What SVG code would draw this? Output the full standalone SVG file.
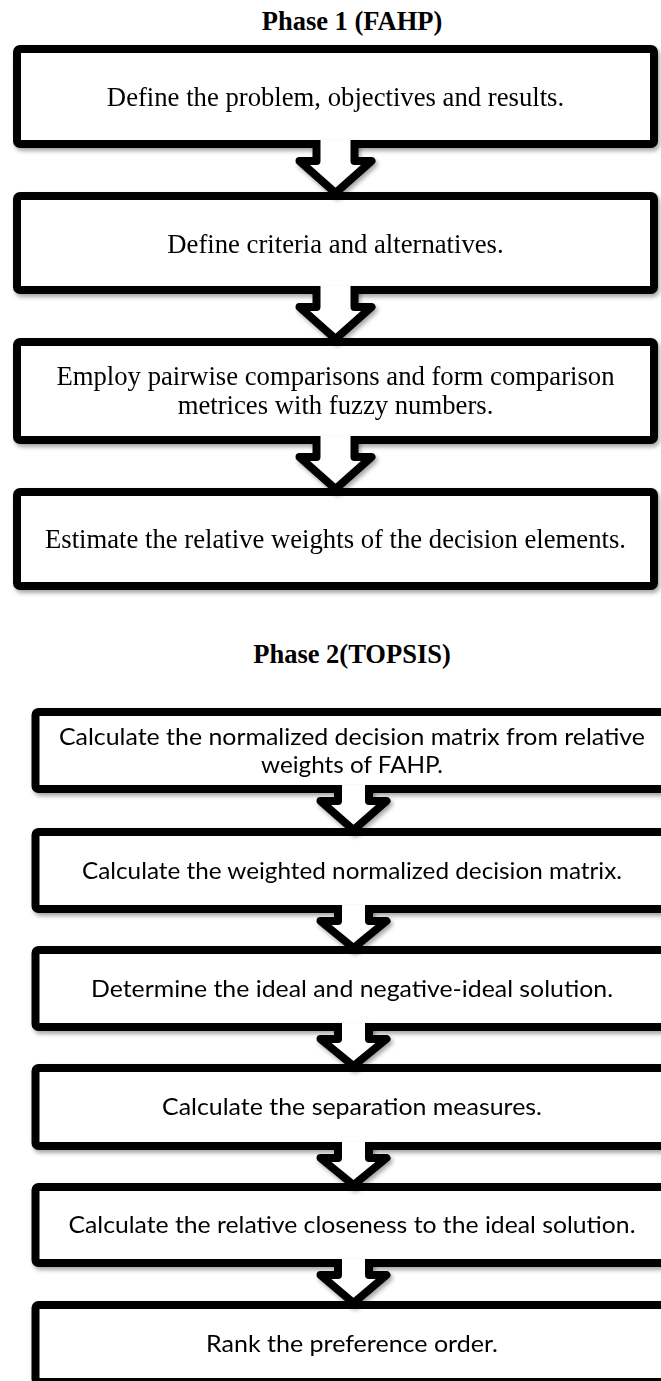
<svg xmlns="http://www.w3.org/2000/svg" width="661" height="1381" viewBox="0 0 661 1381">
<style>
.bg{fill:#ffffff}
.box{fill:#ffffff;stroke:#000000;stroke-width:8;stroke-linejoin:round}
.arr{fill:#ffffff;stroke:#000000;stroke-width:8;stroke-linejoin:round;stroke-linecap:butt}
.title{font-family:"Liberation Serif","Times New Roman",serif;font-weight:bold;font-size:26.5px;fill:#000;text-anchor:middle}
.t1{font-family:"Liberation Serif","Times New Roman",serif;font-size:26.7px;fill:#000;text-anchor:middle}
.t2{font-family:Lato,"Open Sans",sans-serif;font-size:24px;fill:#000;text-anchor:middle}
</style>
<defs>
<filter id="sh" x="-5%" y="-10%" width="115%" height="130%">
<feDropShadow dx="2" dy="3" stdDeviation="2" flood-color="#000" flood-opacity="0.35"/>
</filter>
</defs>
<rect class="bg" x="0" y="0" width="661" height="1381"/>
<text class="title" x="352" y="30">Phase 1 (FAHP)</text>
<text class="title" x="352" y="663">Phase 2(TOPSIS)</text>

<g id="n1" filter="url(#sh)"><rect class="box" x="17" y="49" width="637" height="95" rx="3"/>
<text class="t1" x="335.5" y="106">Define the problem, objectives and results.</text></g>
<g id="n2" filter="url(#sh)"><rect class="box" x="17" y="196" width="637" height="94" rx="3"/>
<text class="t1" x="335.5" y="253">Define criteria and alternatives.</text></g>
<g id="n3" filter="url(#sh)"><rect class="box" x="17" y="342" width="637" height="98" rx="3"/>
<text class="t1" x="335.5" y="385">Employ pairwise comparisons and form comparison</text>
<text class="t1" x="335.5" y="414">metrices with fuzzy numbers.</text></g>
<g id="n4" filter="url(#sh)"><rect class="box" x="17" y="492" width="637" height="94" rx="3"/>
<text class="t1" x="335.5" y="548">Estimate the relative weights of the decision elements.</text></g>

<g id="n5" filter="url(#sh)"><rect class="box" x="35.5" y="712" width="690" height="77" rx="3"/>
<text class="t2" x="352" y="745" textLength="586" lengthAdjust="spacingAndGlyphs">Calculate the normalized decision matrix from relative</text>
<text class="t2" x="352" y="773" textLength="182" lengthAdjust="spacingAndGlyphs">weights of FAHP.</text></g>
<g id="n6" filter="url(#sh)"><rect class="box" x="35.5" y="832" width="690" height="77" rx="3"/>
<text class="t2" x="352" y="879" textLength="540" lengthAdjust="spacingAndGlyphs">Calculate the weighted normalized decision matrix.</text></g>
<g id="n7" filter="url(#sh)"><rect class="box" x="35.5" y="950" width="690" height="77" rx="3"/>
<text class="t2" x="352" y="997" textLength="522" lengthAdjust="spacingAndGlyphs">Determine the ideal and negative-ideal solution.</text></g>
<g id="n8" filter="url(#sh)"><rect class="box" x="35.5" y="1068" width="690" height="78" rx="3"/>
<text class="t2" x="352" y="1115" textLength="380" lengthAdjust="spacingAndGlyphs">Calculate the separation measures.</text></g>
<g id="n9" filter="url(#sh)"><rect class="box" x="35.5" y="1187" width="690" height="76" rx="3"/>
<text class="t2" x="352" y="1233" textLength="567" lengthAdjust="spacingAndGlyphs">Calculate the relative closeness to the ideal solution.</text></g>
<g id="n10" filter="url(#sh)"><rect class="box" x="35.5" y="1305" width="690" height="77" rx="3"/>
<text class="t2" x="352" y="1352" textLength="292" lengthAdjust="spacingAndGlyphs">Rank the preference order.</text></g>

<g id="connectors" filter="url(#sh)">
<path class="arr" d="M316.5,140 V161 H299.5 L335.5,193 L371.5,161 H354.5 V140"/>
<path class="arr" d="M316.5,286 V307 H299.5 L335.5,339 L371.5,307 H354.5 V286"/>
<path class="arr" d="M316.5,436 V457 H299.5 L335.5,489 L371.5,457 H354.5 V436"/>
<path class="arr" d="M338,785 V801 H320.5 L353.5,830 L386.5,801 H369 V785"/>
<path class="arr" d="M338,905 V921 H320.5 L353.5,948 L386.5,921 H369 V905"/>
<path class="arr" d="M338,1023 V1039 H320.5 L353.5,1066 L386.5,1039 H369 V1023"/>
<path class="arr" d="M338,1142 V1158 H320.5 L353.5,1185 L386.5,1158 H369 V1142"/>
<path class="arr" d="M338,1259 V1275 H320.5 L353.5,1303 L386.5,1275 H369 V1259"/>
</g>
</svg>
